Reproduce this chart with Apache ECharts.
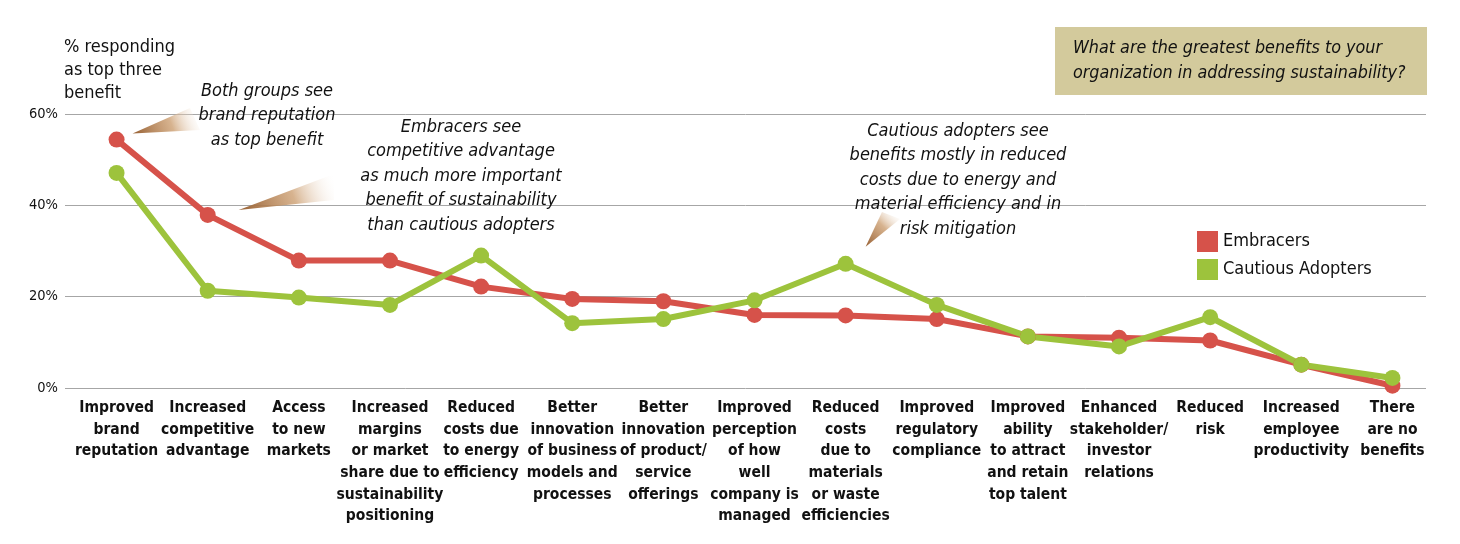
<!DOCTYPE html>
<html>
<head>
<meta charset="utf-8">
<script src="https://cdn.jsdelivr.net/npm/echarts@6/dist/echarts.min.js"></script>
<style>
  html, body { margin: 0; padding: 0; background: #fff; }
  #main { width: 1460px; height: 544px; }
</style>
</head>
<body>
<div id="main"></div>
<script>
var categories = [
  'Improved\nbrand\nreputation',
  'Increased\ncompetitive\nadvantage',
  'Access\nto new\nmarkets',
  'Increased\nmargins\nor market\nshare due to\nsustainability\npositioning',
  'Reduced\ncosts due\nto energy\nefficiency',
  'Better\ninnovation\nof business\nmodels and\nprocesses',
  'Better\ninnovation\nof product/\nservice\nofferings',
  'Improved\nperception\nof how\nwell\ncompany is\nmanaged',
  'Reduced\ncosts\ndue to\nmaterials\nor waste\nefficiencies',
  'Improved\nregulatory\ncompliance',
  'Improved\nability\nto attract\nand retain\ntop talent',
  'Enhanced\nstakeholder/\ninvestor\nrelations',
  'Reduced\nrisk',
  'Increased\nemployee\nproductivity',
  'There\nare no\nbenefits'
];
var embracers = [54.4, 37.9, 27.9, 27.9, 22.2, 19.5, 19.0, 16.0, 15.9, 15.1, 11.3, 11.0, 10.4, 5.1, 0.5];
var cautious  = [47.1, 21.3, 19.8, 18.2, 29.0, 14.2, 15.1, 19.2, 27.2, 18.2, 11.3, 9.1, 15.5, 5.1, 2.2];
var yTicks = [0, 20, 40, 60];

var FONT = '"Liberation Sans Narrow", "DejaVu Sans Condensed", "Roboto", sans-serif';
var RED = '#d6524a';
var GREEN = '#9dc33c';

var myChart = echarts.init(document.getElementById('main'));
var option = {
  backgroundColor: '#fff',
  animation: false,
  textStyle: { fontFamily: FONT },
  legend: {
    data: ['Embracers', 'Cautious Adopters'],
    orient: 'vertical',
    left: 1192,
    top: 226,
    icon: 'rect',
    itemWidth: 21,
    itemHeight: 21,
    itemGap: 7,
    textStyle: { fontFamily: FONT, fontSize: 18, color: '#111' }
  },
  grid: [
    // grid holding the horizontal gridlines and % ticks
    { left: 65, right: 34, top: 114, bottom: 156 },
    // grid holding the lines and category labels
    { left: 71, right: 22, top: 114, bottom: 156 }
  ],
  xAxis: [
    { gridIndex: 0, type: 'category', data: categories, show: false },
    {
      gridIndex: 1,
      type: 'category',
      data: categories,
      boundaryGap: true,
      axisLine: { show: false },
      axisTick: { show: false },
      axisLabel: {
        interval: 0,
        margin: 9,
        fontFamily: FONT,
        fontWeight: 'bold',
        fontSize: 15.5,
        lineHeight: 21.7,
        color: '#111'
      }
    }
  ],
  yAxis: [
    {
      gridIndex: 0,
      type: 'value',
      min: yTicks[0],
      max: yTicks[yTicks.length - 1],
      interval: 20,
      axisLine: { show: false },
      axisTick: { show: false },
      axisLabel: {
        formatter: '{value}%',
        margin: 7,
        fontFamily: FONT,
        fontSize: 14.5,
        color: '#111'
      },
      splitLine: { lineStyle: { color: '#a6a6a6', width: 1 } }
    },
    {
      gridIndex: 1,
      type: 'value',
      min: yTicks[0],
      max: yTicks[yTicks.length - 1],
      show: false,
      splitLine: { show: false }
    }
  ],
  series: [
    {
      name: 'Embracers',
      type: 'line',
      xAxisIndex: 1,
      yAxisIndex: 1,
      data: embracers,
      symbol: 'circle',
      symbolSize: 16,
      color: RED,
      lineStyle: { width: 6, color: RED },
      itemStyle: { color: RED }
    },
    {
      name: 'Cautious Adopters',
      type: 'line',
      xAxisIndex: 1,
      yAxisIndex: 1,
      data: cautious,
      symbol: 'circle',
      symbolSize: 16,
      color: GREEN,
      lineStyle: { width: 6, color: GREEN },
      itemStyle: { color: GREEN }
    }
  ]
};
myChart.setOption(option);

// annotation wedges start near the data points they describe
function px(series, i, vals) {
  return myChart.convertToPixel({ seriesIndex: series }, [i, vals[i]]);
}
function wedge(tip, b1, b2, grad) {
  return {
    type: 'polygon',
    z: 1,
    shape: { points: [tip, b1, b2] },
    style: {
      fill: new echarts.graphic.LinearGradient(grad[0], grad[1], grad[2], grad[3], [
        { offset: 0, color: 'rgba(150,95,50,1)' },
        { offset: 0.55, color: 'rgba(205,160,115,0.8)' },
        { offset: 1, color: 'rgba(255,255,255,0)' }
      ])
    }
  };
}
var p1 = px(0, 0, embracers);
var p2 = px(0, 1, embracers);
var p3 = px(1, 8, cautious);
var t1 = [p1[0] + 16, p1[1] - 6];
var t2 = [p2[0] + 31, p2[1] - 5];
var t3 = [p3[0] + 20, p3[1] - 17];

function note(x, y, text) {
  return {
    type: 'text',
    z: 10,
    x: x,
    y: y,
    style: {
      text: text,
      fontFamily: FONT,
      fontStyle: 'italic',
      fontSize: 18,
      lineHeight: 24.5,
      fill: '#111',
      align: 'center',
      verticalAlign: 'top'
    }
  };
}

myChart.setOption({
  graphic: [
    wedge(t1, [190, 108], [200, 130], [0, 1, 1, 0]),
    wedge(t2, [334, 174], [334, 200], [0, 1, 1, 0]),
    wedge(t3, [882, 212], [900, 219], [0, 1, 1, 0]),
    {
      type: 'text',
      x: 64,
      y: 36,
      style: {
        text: '% responding\nas top three\nbenefit',
        fontFamily: FONT,
        fontSize: 18,
        lineHeight: 23,
        fill: '#111',
        align: 'left',
        verticalAlign: 'top'
      }
    },
    note(267, 79, 'Both groups see\nbrand reputation\nas top benefit'),
    note(461, 115, 'Embracers see\ncompetitive advantage\nas much more important\nbenefit of sustainability\nthan cautious adopters'),
    note(958, 119, 'Cautious adopters see\nbenefits mostly in reduced\ncosts due to energy and\nmaterial efficiency and in\nrisk mitigation'),
    {
      type: 'rect',
      shape: { x: 1055, y: 27, width: 372, height: 68 },
      style: { fill: '#d3ca9c' }
    },
    {
      type: 'text',
      x: 1073,
      y: 36,
      style: {
        text: 'What are the greatest benefits to your\norganization in addressing sustainability?',
        fontFamily: FONT,
        fontStyle: 'italic',
        fontSize: 17.8,
        lineHeight: 25,
        fill: '#111',
        align: 'left',
        verticalAlign: 'top'
      }
    }
  ]
});
</script>
</body>
</html>
